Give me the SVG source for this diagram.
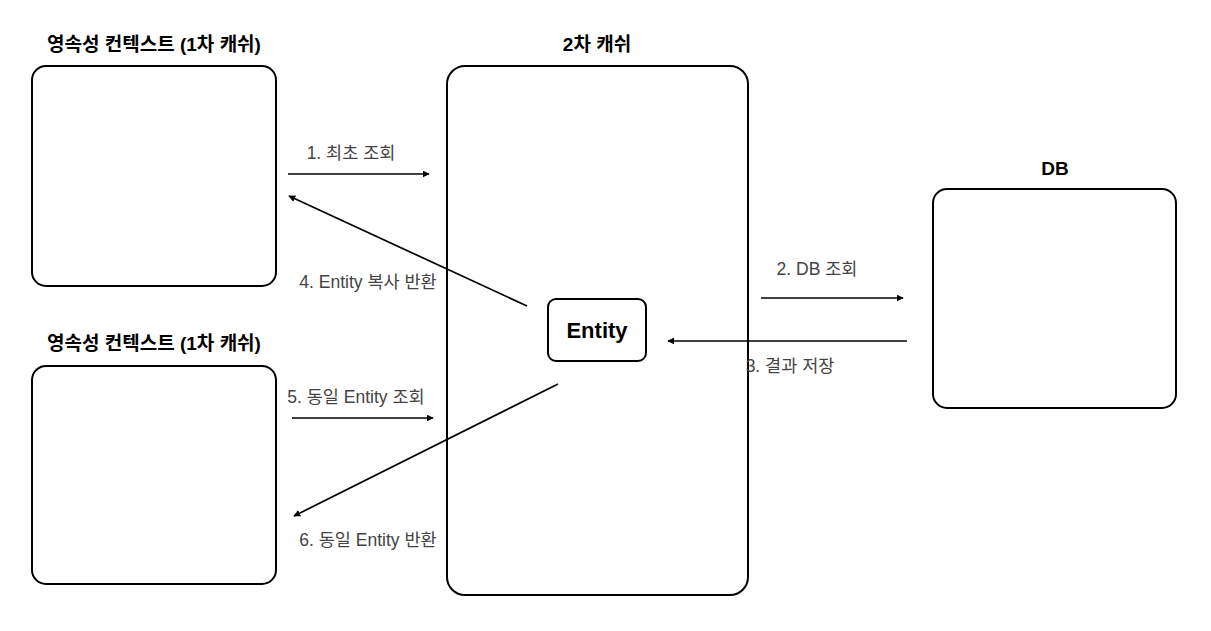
<svg xmlns="http://www.w3.org/2000/svg" width="1211" height="631" viewBox="0 0 1211 631">
<defs>
<style>
.box{fill:#fff;stroke:#000;stroke-width:2}
.title{font-family:"Liberation Sans","Noto Sans CJK KR",sans-serif;font-size:19px;font-weight:bold;fill:#000;text-anchor:middle}
.lbl{font-family:"Liberation Sans","Noto Sans CJK KR",sans-serif;font-size:17.5px;fill:#444;text-anchor:middle}
.ent{font-family:"Liberation Sans","Noto Sans CJK KR",sans-serif;font-size:22px;font-weight:bold;fill:#000;text-anchor:middle}
.conn{stroke:#000;stroke-width:1.7;fill:none;marker-end:url(#ah)}
</style>
<marker id="ah" viewBox="0 0 10 10" refX="9" refY="5" markerWidth="7" markerHeight="7" markerUnits="userSpaceOnUse" orient="auto">
<path d="M0,0 L10,5 L0,10 Z" fill="#000"/>
</marker>
</defs>
<rect width="1211" height="631" fill="#fff"/>
<g id="pc1">
<rect class="box" x="32" y="66" width="244" height="220" rx="14"/>
<text class="title" x="154" y="51">영속성 컨텍스트 (1차 캐쉬)</text>
</g>
<g id="pc2">
<rect class="box" x="32" y="366" width="244" height="218" rx="14"/>
<text class="title" x="154" y="350">영속성 컨텍스트 (1차 캐쉬)</text>
</g>
<g id="cache2">
<rect class="box" x="447" y="66" width="301" height="529" rx="18"/>
<text class="title" x="597" y="51">2차 캐쉬</text>
</g>
<g id="entity">
<rect class="box" x="548" y="299" width="98" height="62" rx="8"/>
<text class="ent" x="597" y="338">Entity</text>
</g>
<g id="db">
<rect class="box" x="933" y="189" width="243" height="219" rx="14"/>
<text class="title" x="1055" y="175">DB</text>
</g>
<g id="connectors">
<line class="conn" x1="288" y1="174" x2="429" y2="174"/>
<text class="lbl" x="351" y="159">1. 최초 조회</text>
<line class="conn" x1="527" y1="306" x2="289" y2="196"/>
<text class="lbl" x="368" y="288">4. Entity 복사 반환</text>
<line class="conn" x1="761" y1="298" x2="903" y2="298"/>
<text class="lbl" x="817" y="275">2. DB 조회</text>
<line class="conn" x1="907" y1="341" x2="668" y2="341"/>
<text class="lbl" x="790" y="372">3. 결과 저장</text>
<line class="conn" x1="292" y1="418" x2="433" y2="418"/>
<text class="lbl" x="356" y="403">5. 동일 Entity 조회</text>
<line class="conn" x1="558" y1="384" x2="294" y2="516"/>
<text class="lbl" x="368" y="546">6. 동일 Entity 반환</text>
</g>
</svg>
